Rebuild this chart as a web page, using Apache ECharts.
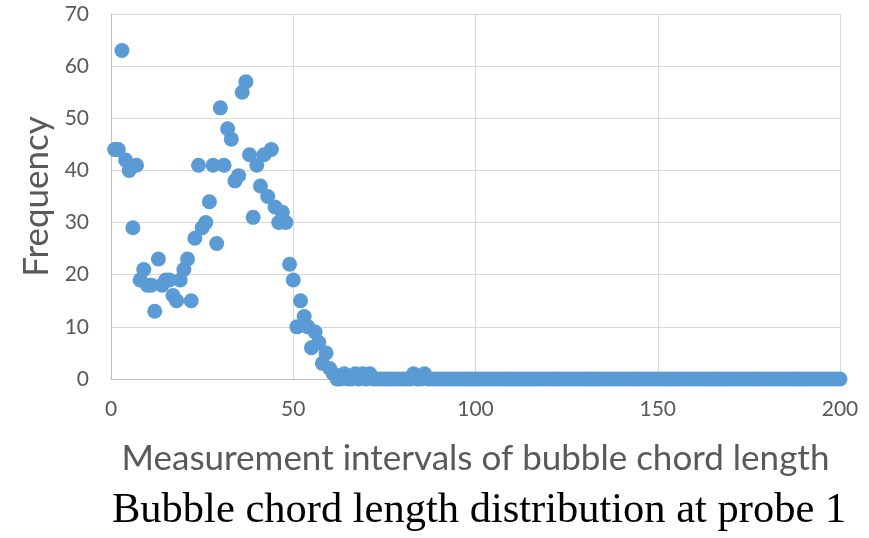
<!DOCTYPE html>
<html>
<head>
<meta charset="utf-8">
<script src="https://cdn.jsdelivr.net/npm/echarts@6/dist/echarts.min.js"></script>
<style>
  html, body { margin: 0; padding: 0; background: #ffffff; }
  #chart { width: 869px; height: 538px; }
</style>
</head>
<body>
<div id="chart"></div>
<script>
// Chord-length measurement intervals (1 .. 200)
const intervals = Array.from({ length: 200 }, (_, i) => i + 1);

// Frequency counted in each interval
const frequency = [
  44, 44, 63, 42, 40, 29, 41, 19, 21, 18, 18, 13, 23, 18, 19, 19, 16, 15, 19, 21,
  23, 15, 27, 41, 29, 30, 34, 41, 26, 52, 41, 48, 46, 38, 39, 55, 57, 43, 31, 41,
  37, 43, 35, 44, 33, 30, 32, 30, 22, 19, 10, 15, 12, 10, 6, 9, 7, 3, 5, 2,
  1, 0, 0, 1, 0, 0, 1, 0, 1, 0, 1, 0, 0, 0, 0, 0, 0, 0, 0, 0,
  0, 0, 1, 0, 0, 1, 0, 0, 0, 0, 0, 0, 0, 0, 0, 0, 0, 0, 0, 0,
  0, 0, 0, 0, 0, 0, 0, 0, 0, 0, 0, 0, 0, 0, 0, 0, 0, 0, 0, 0,
  0, 0, 0, 0, 0, 0, 0, 0, 0, 0, 0, 0, 0, 0, 0, 0, 0, 0, 0, 0,
  0, 0, 0, 0, 0, 0, 0, 0, 0, 0, 0, 0, 0, 0, 0, 0, 0, 0, 0, 0,
  0, 0, 0, 0, 0, 0, 0, 0, 0, 0, 0, 0, 0, 0, 0, 0, 0, 0, 0, 0,
  0, 0, 0, 0, 0, 0, 0, 0, 0, 0, 0, 0, 0, 0, 0, 0, 0, 0, 0, 0
];

// Axis tick settings
const xTicks = { min: 0, max: 200, step: 50 };
const yTicks = { min: 0, max: 70, step: 10 };

const xAxisTitle = 'Measurement intervals of bubble chord length';
const yAxisTitle = 'Frequency';
const caption = 'Bubble chord length distribution at probe 1';

const points = intervals.map((x, i) => [x, frequency[i]]);

const labelFont = 'Lato, "Liberation Sans", sans-serif';
const gridColor = '#D9D9D9';
const textColor = '#595959';

const chart = echarts.init(document.getElementById('chart'), null, { renderer: 'canvas' });

chart.setOption({
  animation: false,
  backgroundColor: '#ffffff',
  grid: { left: 111, right: 29, top: 14, bottom: 159 },
  title: {
    text: caption,
    left: 112,
    top: 489,
    padding: 0,
    textStyle: {
      fontFamily: '"Liberation Serif", "Times New Roman", serif',
      fontWeight: 'normal',
      fontSize: 42.5,
      color: '#000000'
    }
  },
  xAxis: {
    type: 'value',
    min: xTicks.min,
    max: xTicks.max,
    interval: xTicks.step,
    name: xAxisTitle,
    nameLocation: 'middle',
    nameGap: 62,
    nameTextStyle: { fontFamily: labelFont, fontSize: 35, color: textColor },
    axisLine: { show: true, lineStyle: { color: '#BFBFBF', width: 1 } },
    axisTick: { show: false },
    axisLabel: { fontFamily: labelFont, fontSize: 21, color: textColor, margin: 20 },
    splitLine: { show: true, lineStyle: { color: gridColor, width: 1 } }
  },
  yAxis: {
    type: 'value',
    min: yTicks.min,
    max: yTicks.max,
    interval: yTicks.step,
    name: yAxisTitle,
    nameLocation: 'middle',
    nameGap: 54,
    nameTextStyle: { fontFamily: labelFont, fontSize: 35, color: textColor },
    axisLine: { show: true, lineStyle: { color: '#BFBFBF', width: 1 } },
    axisTick: { show: false },
    axisLabel: { fontFamily: labelFont, fontSize: 21, color: textColor, margin: 22 },
    splitLine: { show: true, lineStyle: { color: gridColor, width: 1 } }
  },
  series: [{
    type: 'scatter',
    data: points,
    symbol: 'circle',
    symbolSize: 15,
    itemStyle: { color: '#5B9BD5', opacity: 1 }
  }]
});
</script>
</body>
</html>
